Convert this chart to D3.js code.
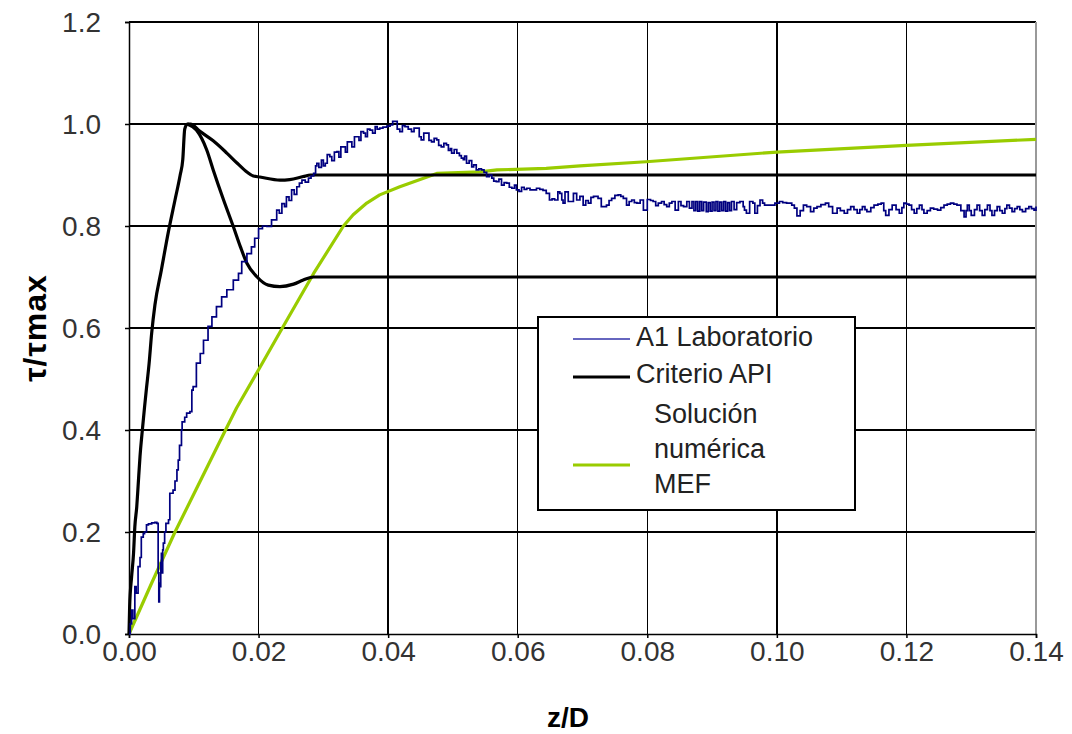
<!DOCTYPE html>
<html><head><meta charset="utf-8">
<script src="https://cdn.jsdelivr.net/npm/d3@7"></script>
<style>
body{margin:0;background:#fff;}
text{font-family:"Liberation Sans",Arial,sans-serif;}
</style></head><body>
<svg id="chart" width="1072" height="734"></svg>
<script>
const xTicks = [0,0.02,0.04,0.06,0.08,0.10,0.12,0.14];
const yTicks = [0,0.2,0.4,0.6,0.8,1.0,1.2];
const xTitle = "z/D";
const yTitle = "τ/τmax";
const seriesNames = ["A1 Laboratorio","Criterio API","Solución numérica MEF"];

// A1 Laboratorio (z/D, tau/taumax)
const labData = [[0,0],[0.0002,0.02],[0.0004,0.047],[0.0006,0.03],[0.0009,0.093],[0.0011,0.08],[0.0014,0.132],[0.0017,0.15],[0.0019,0.19],[0.0022,0.197],[0.0024,0.2],[0.0027,0.214],[0.003,0.216],[0.0035,0.218],[0.004,0.219],[0.0043,0.217],[0.0045,0.21],[0.0045,0.12],[0.0046,0.063],[0.0047,0.1],[0.0048,0.093],[0.0049,0.14],[0.005,0.158],[0.0051,0.12],[0.0052,0.165],[0.0053,0.178],[0.0055,0.2],[0.0057,0.217],[0.0061,0.224],[0.0063,0.276],[0.0068,0.282],[0.0071,0.3],[0.0074,0.322],[0.0076,0.341],[0.0078,0.37],[0.0081,0.4],[0.0082,0.416],[0.0086,0.425],[0.0089,0.433],[0.0094,0.436],[0.0097,0.478],[0.0099,0.485],[0.0104,0.531],[0.011,0.55],[0.0115,0.576],[0.0122,0.603],[0.0128,0.622],[0.0135,0.642],[0.0143,0.661],[0.0151,0.675],[0.0161,0.694],[0.0169,0.707],[0.0174,0.73],[0.0182,0.746],[0.0189,0.759],[0.0194,0.776],[0.02,0.795],[0.0206,0.8],[0.0213,0.799],[0.022,0.812],[0.0228,0.831],[0.0232,0.825],[0.0236,0.844],[0.024,0.838],[0.0243,0.857],[0.0247,0.85],[0.0251,0.871],[0.0255,0.862],[0.0259,0.877],[0.0263,0.884],[0.0267,0.89],[0.0272,0.886],[0.0277,0.894],[0.0281,0.898],[0.0285,0.903],[0.0288,0.918],[0.029,0.923],[0.0293,0.915],[0.0297,0.929],[0.03,0.918],[0.0303,0.923],[0.0306,0.94],[0.031,0.936],[0.0313,0.928],[0.0317,0.945],[0.0321,0.946],[0.0324,0.935],[0.0327,0.955],[0.0331,0.955],[0.0334,0.945],[0.0337,0.965],[0.0341,0.965],[0.0344,0.955],[0.0348,0.975],[0.0352,0.975],[0.0355,0.968],[0.0358,0.985],[0.0362,0.982],[0.0365,0.975],[0.0368,0.99],[0.0372,0.988],[0.0376,0.982],[0.038,0.995],[0.0383,0.99],[0.0387,0.992],[0.0392,0.994],[0.0398,0.996],[0.0403,0.998],[0.0407,1.005],[0.0411,1.005],[0.0414,0.99],[0.0418,0.985],[0.0422,0.997],[0.0426,0.995],[0.0431,0.99],[0.0436,0.985],[0.044,0.992],[0.0444,0.992],[0.0448,0.975],[0.0451,0.969],[0.0455,0.982],[0.0459,0.982],[0.0463,0.968],[0.0467,0.965],[0.0471,0.972],[0.0475,0.969],[0.0478,0.958],[0.0482,0.955],[0.0486,0.962],[0.049,0.959],[0.0493,0.948],[0.0496,0.952],[0.0498,0.943],[0.0502,0.95],[0.0506,0.943],[0.051,0.938],[0.0513,0.933],[0.0516,0.93],[0.0518,0.937],[0.0521,0.923],[0.0525,0.928],[0.0529,0.916],[0.0532,0.92],[0.0536,0.91],[0.054,0.912],[0.0544,0.91],[0.0548,0.905],[0.0552,0.897],[0.0556,0.9],[0.056,0.894],[0.0563,0.888],[0.0567,0.887],[0.0571,0.892],[0.0575,0.88],[0.0579,0.885],[0.0583,0.884],[0.0587,0.876],[0.0591,0.874],[0.0595,0.88],[0.0598,0.871],[0.0602,0.868],[0.0606,0.876],[0.061,0.872],[0.0614,0.874],[0.0619,0.871],[0.0624,0.871],[0.0629,0.874],[0.0634,0.872],[0.0639,0.87],[0.0644,0.864],[0.0649,0.851],[0.0653,0.853],[0.0657,0.851],[0.0662,0.867],[0.0665,0.864],[0.0668,0.851],[0.067,0.845],[0.0673,0.867],[0.0675,0.867],[0.0678,0.848],[0.068,0.848],[0.0686,0.864],[0.0688,0.864],[0.0691,0.851],[0.0696,0.858],[0.0701,0.841],[0.0705,0.85],[0.0709,0.845],[0.0713,0.856],[0.0717,0.858],[0.0724,0.854],[0.0729,0.838],[0.0737,0.841],[0.0741,0.85],[0.0745,0.854],[0.075,0.86],[0.0755,0.861],[0.0759,0.858],[0.0763,0.854],[0.0768,0.841],[0.0772,0.848],[0.0776,0.851],[0.078,0.846],[0.0784,0.845],[0.0789,0.851],[0.0794,0.831],[0.08,0.852],[0.0805,0.85],[0.0809,0.848],[0.0813,0.84],[0.0817,0.845],[0.0822,0.848],[0.0826,0.842],[0.083,0.838],[0.0834,0.845],[0.0838,0.848],[0.0843,0.831],[0.0848,0.848],[0.0852,0.84],[0.0856,0.838],[0.0861,0.848],[0.0865,0.835],[0.0869,0.848],[0.0872,0.83],[0.0875,0.848],[0.0878,0.829],[0.0881,0.848],[0.0884,0.83],[0.0887,0.847],[0.0891,0.828],[0.0894,0.846],[0.0897,0.829],[0.09,0.847],[0.0903,0.83],[0.0906,0.848],[0.0909,0.829],[0.0912,0.847],[0.0915,0.83],[0.0918,0.848],[0.0921,0.829],[0.0924,0.846],[0.0927,0.83],[0.093,0.848],[0.0934,0.832],[0.0938,0.846],[0.0943,0.848],[0.0948,0.838],[0.095,0.831],[0.0953,0.825],[0.0958,0.848],[0.0963,0.845],[0.0966,0.825],[0.097,0.84],[0.0974,0.851],[0.0978,0.845],[0.0981,0.841],[0.0989,0.841],[0.0997,0.845],[0.1004,0.848],[0.1009,0.846],[0.1015,0.845],[0.102,0.845],[0.1023,0.841],[0.1027,0.835],[0.1031,0.82],[0.1036,0.83],[0.1041,0.841],[0.1046,0.838],[0.1052,0.828],[0.1057,0.835],[0.1062,0.838],[0.1068,0.842],[0.1075,0.845],[0.108,0.838],[0.1086,0.825],[0.1093,0.835],[0.1098,0.83],[0.1104,0.825],[0.1109,0.832],[0.1114,0.838],[0.1119,0.832],[0.1124,0.825],[0.1128,0.832],[0.1132,0.838],[0.1136,0.832],[0.1139,0.828],[0.1145,0.836],[0.115,0.841],[0.1156,0.843],[0.1161,0.845],[0.1165,0.83],[0.1168,0.821],[0.1173,0.832],[0.1178,0.841],[0.1184,0.832],[0.1189,0.825],[0.1193,0.836],[0.1196,0.845],[0.12,0.843],[0.1204,0.841],[0.1208,0.832],[0.1212,0.825],[0.1216,0.834],[0.122,0.841],[0.1224,0.832],[0.1227,0.825],[0.1232,0.83],[0.1237,0.835],[0.1242,0.833],[0.1248,0.831],[0.1253,0.836],[0.1258,0.841],[0.1263,0.843],[0.1268,0.845],[0.1273,0.843],[0.1278,0.841],[0.1284,0.83],[0.1289,0.818],[0.1292,0.83],[0.1294,0.841],[0.1297,0.83],[0.13,0.821],[0.1305,0.832],[0.1309,0.841],[0.1313,0.83],[0.1317,0.821],[0.1321,0.832],[0.1325,0.841],[0.1329,0.83],[0.1332,0.821],[0.1336,0.83],[0.134,0.838],[0.1344,0.83],[0.1348,0.825],[0.1352,0.834],[0.1355,0.841],[0.1359,0.835],[0.1363,0.828],[0.1367,0.834],[0.1371,0.838],[0.1375,0.832],[0.1379,0.828],[0.1384,0.834],[0.1389,0.838],[0.1393,0.834],[0.1397,0.831],[0.14,0.838]];

// Criterio API: common rise to peak, then two branches (residual 0.9 and 0.7)
const apiRise = [[0,0],[0.0001,0.054],[0.0004,0.112],[0.0007,0.158],[0.0009,0.21],[0.0012,0.25],[0.0014,0.289],[0.0017,0.348],[0.0021,0.405],[0.0024,0.445],[0.0027,0.482],[0.0031,0.53],[0.0035,0.59],[0.004,0.645],[0.005,0.714],[0.0061,0.79],[0.0071,0.851],[0.0079,0.9],[0.0083,0.93],[0.0086,0.99],[0.009,1.0]];
const apiUpper = [[0.009,1.0],[0.0095,1.0],[0.0109,0.986],[0.013,0.967],[0.0151,0.943],[0.0168,0.922],[0.0182,0.906],[0.0192,0.898],[0.0202,0.896],[0.0233,0.89],[0.0248,0.891],[0.0269,0.897],[0.028,0.9],[0.14,0.9]];
const apiLower = [[0.009,1.0],[0.0104,0.988],[0.012,0.949],[0.013,0.91],[0.0146,0.851],[0.0161,0.799],[0.0172,0.759],[0.0182,0.727],[0.0197,0.701],[0.0215,0.684],[0.0233,0.681],[0.0254,0.686],[0.0269,0.694],[0.0285,0.7],[0.14,0.7]];

// Solución numérica MEF
const mefData = [[0,0],[0.0035,0.1],[0.0071,0.2],[0.011,0.3],[0.0149,0.4],[0.0166,0.443],[0.02,0.518],[0.0238,0.603],[0.0285,0.707],[0.0331,0.8],[0.0346,0.822],[0.0367,0.845],[0.0387,0.861],[0.0418,0.877],[0.0445,0.889],[0.0475,0.903],[0.0542,0.906],[0.0568,0.91],[0.0644,0.913],[0.0696,0.918],[0.0798,0.926],[0.1,0.945],[0.12,0.958],[0.14,0.97]];

const svg = d3.select("#chart");
const L = 129, R = 1036, T = 22, B = 634;
const x = d3.scaleLinear().domain([0,0.14]).range([L,R]);
const y = d3.scaleLinear().domain([0,1.2]).range([B,T]);

svg.append("rect").attr("width",1072).attr("height",734).attr("fill","#fff");

// grid
const grid = svg.append("g").attr("shape-rendering","crispEdges");
grid.selectAll(".hg").data(yTicks.slice(1)).join("line")
  .attr("x1",L).attr("x2",R).attr("y1",d=>y(d)).attr("y2",d=>y(d))
  .attr("stroke","#000").attr("stroke-width",1.5);
grid.selectAll(".vg").data(xTicks.slice(1)).join("line")
  .attr("y1",T).attr("y2",B).attr("x1",d=>x(d)).attr("x2",d=>x(d))
  .attr("stroke","#000").attr("stroke-width",1.5);
grid.append("line").attr("x1",R).attr("x2",R).attr("y1",T).attr("y2",B).attr("stroke","#999").attr("stroke-width",1.5);

// axes
const fontTick = 28;
const ax = svg.append("g").attr("transform",`translate(0,${B})`)
  .call(d3.axisBottom(x).tickValues(xTicks).tickFormat(d3.format(".2f")).tickSize(4).tickPadding(3));
const ay = svg.append("g").attr("transform",`translate(${L},0)`)
  .call(d3.axisLeft(y).tickValues(yTicks).tickFormat(d3.format(".1f")).tickSize(4).tickPadding(24));
[ax,ay].forEach(g=>{
  g.select(".domain").attr("stroke","#000").attr("stroke-width",1.5);
  g.selectAll(".tick line").attr("stroke","#000").attr("stroke-width",1.5);
  g.selectAll(".tick text").attr("font-family","Liberation Sans, Arial, sans-serif")
   .attr("font-size",fontTick).attr("fill","#333");
});
ay.selectAll(".tick text").attr("dy","0.35em");

// titles
svg.append("text").attr("x",568).attr("y",727).attr("text-anchor","middle")
  .attr("font-size",28).attr("font-weight","bold").text(xTitle);
svg.append("text").attr("transform","translate(46,328) rotate(-90)").attr("text-anchor","middle")
  .attr("font-size",32).attr("font-weight","bold").attr("letter-spacing",1).text(yTitle);

// lines
const line = d3.line().x(d=>x(d[0])).y(d=>y(d[1]));
const smooth = d3.line().x(d=>x(d[0])).y(d=>y(d[1])).curve(d3.curveMonotoneX);
const step = d3.line().x(d=>x(d[0])).y(d=>y(d[1])).curve(d3.curveStepAfter);
const plot = svg.append("g");
plot.append("path").datum(mefData).attr("d",line).attr("fill","none")
  .attr("stroke","#99cc00").attr("stroke-width",3.2).attr("stroke-linejoin","round");
plot.append("path").datum(apiRise.concat(apiUpper.slice(1))).attr("d",smooth).attr("fill","none")
  .attr("stroke","#000").attr("stroke-width",3.2).attr("stroke-linejoin","round");
plot.append("path").datum(apiLower).attr("d",smooth).attr("fill","none")
  .attr("stroke","#000").attr("stroke-width",3.2).attr("stroke-linejoin","round");
plot.append("path").datum(labData).attr("d",step).attr("fill","none")
  .attr("stroke","#000080").attr("stroke-width",1.7);

// legend
const lg = svg.append("g");
lg.append("rect").attr("x",538).attr("y",317).attr("width",317).attr("height",193)
  .attr("fill","#fff").attr("stroke","#000").attr("stroke-width",1.5).attr("shape-rendering","crispEdges");
const legItems = [
  {name:seriesNames[0], color:"#3333aa", w:1.5, ly:339, lines:[{t:"A1 Laboratorio",x:636,y:346}]},
  {name:seriesNames[1], color:"#000", w:3.2, ly:377, lines:[{t:"Criterio API",x:636,y:383}]},
  {name:seriesNames[2], color:"#99cc00", w:3.2, ly:465, lines:[{t:"Solución",x:654,y:423},{t:"numérica",x:654,y:458},{t:"MEF",x:654,y:493}]}
];
legItems.forEach(it=>{
  lg.append("line").attr("x1",573).attr("x2",630).attr("y1",it.ly).attr("y2",it.ly)
    .attr("stroke",it.color).attr("stroke-width",it.w);
  it.lines.forEach(l=>lg.append("text").attr("x",l.x).attr("y",l.y).attr("font-size",fontTick-1)
    .attr("fill","#222").text(l.t));
});
</script></body></html>
